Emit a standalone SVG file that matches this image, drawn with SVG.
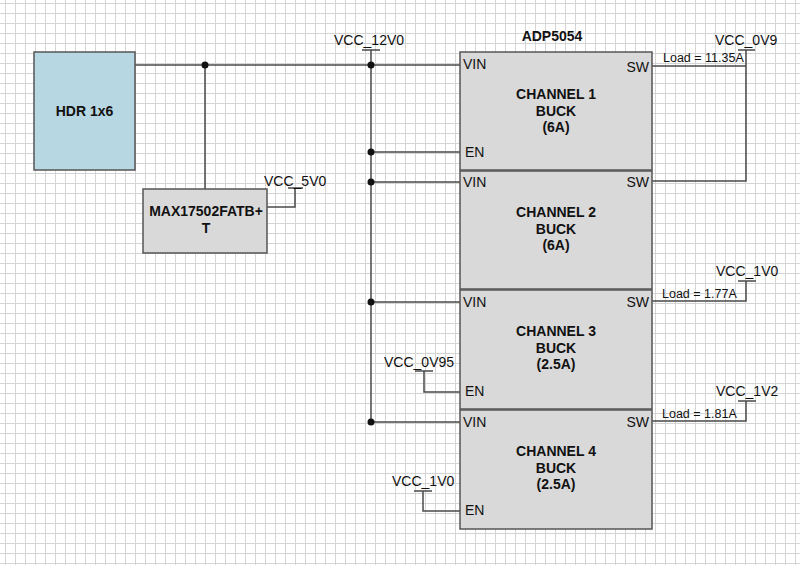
<svg xmlns="http://www.w3.org/2000/svg" width="800" height="565" viewBox="0 0 800 565">
<defs>
<pattern id="grid" width="10" height="10" patternUnits="userSpaceOnUse" x="5" y="3">
<path d="M0 0.5 H10 M0.5 0 V10" fill="none" stroke="#d4d4d4" stroke-width="1"/>
</pattern>
<style>
text{font-family:"Liberation Sans",Arial,sans-serif;fill:#111}
.b{font-weight:bold;font-size:14px;text-anchor:middle}
.p{font-size:14px}
.l{font-size:12.5px}
.box{fill:#d9d9d9;stroke:#555;stroke-width:1.5}
.w{fill:none;stroke:#4a4a4a;stroke-width:1.5}
.dot{fill:#111}
</style>
</defs>
<rect width="800" height="565" fill="#fff"/>
<rect width="800" height="565" fill="url(#grid)"/>

<g id="connectors">
<path class="w" d="M135,65 H460"/>
<path class="w" d="M205,65 V189"/>
<path class="w" d="M267,207 H295 V188 M288,188 H303"/>
<path class="w" d="M371,50 V422 M362,50 H380"/>
<path class="w" d="M371,152 H460 M371,182 H460 M371,302 H460 M371,422 H460"/>
<path class="w" d="M652,66 H746 M738,50 H755 M746,50 V181 H652"/>
<path class="w" d="M652,301 H746 V281 M738,281 H756"/>
<path class="w" d="M652,421 H746 V401 M738,401 H756"/>
<path class="w" d="M415,371 H433 M424,371 V392 H460"/>
<path class="w" d="M414,491 H432 M423,491 V511 H460"/>
<circle class="dot" cx="205" cy="65" r="3.5"/>
<circle class="dot" cx="371" cy="65" r="3.5"/>
<circle class="dot" cx="371" cy="152" r="3.5"/>
<circle class="dot" cx="371" cy="182" r="3.5"/>
<circle class="dot" cx="371" cy="302" r="3.5"/>
<circle class="dot" cx="371" cy="422" r="3.5"/>
<text class="p" x="334" y="45">VCC_12V0</text>
<text class="p" x="264" y="186">VCC_5V0</text>
<text class="p" x="715" y="45">VCC_0V9</text>
<text class="p" x="716" y="276">VCC_1V0</text>
<text class="p" x="716" y="396">VCC_1V2</text>
<text class="p" x="384" y="367">VCC_0V95</text>
<text class="p" x="392" y="486">VCC_1V0</text>
<text class="l" x="663" y="62">Load = 11.35A</text>
<text class="l" x="662" y="298">Load = 1.77A</text>
<text class="l" x="662" y="418">Load = 1.81A</text>
</g>

<g id="hdr">
<rect x="34" y="52" width="101" height="118" fill="#b7d8e2" stroke="#555" stroke-width="1.5"/>
<text class="b" x="84.5" y="116">HDR 1x6</text>
</g>

<g id="max17502">
<rect class="box" x="143" y="189" width="124" height="64"/>
<text class="b" x="206" y="216">MAX17502FATB+</text>
<text class="b" x="206" y="233">T</text>
</g>

<g id="adp5054">
<text class="b" x="552" y="41">ADP5054</text>
</g>

<g id="ch1">
<rect class="box" x="460" y="52" width="192" height="118"/>
<text class="p" x="463" y="69">VIN</text>
<text class="p" x="649" y="72" text-anchor="end">SW</text>
<text class="p" x="465" y="157">EN</text>
<text class="b" x="556" y="99">CHANNEL 1</text>
<text class="b" x="556" y="115.5">BUCK</text>
<text class="b" x="556" y="132">(6A)</text>
</g>

<g id="ch2">
<rect class="box" x="460" y="171" width="192" height="118"/>
<text class="p" x="463" y="187">VIN</text>
<text class="p" x="649" y="187" text-anchor="end">SW</text>
<text class="b" x="556" y="217">CHANNEL 2</text>
<text class="b" x="556" y="233.5">BUCK</text>
<text class="b" x="556" y="250">(6A)</text>
</g>

<g id="ch3">
<rect class="box" x="460" y="290" width="192" height="119"/>
<text class="p" x="463" y="307">VIN</text>
<text class="p" x="649" y="307" text-anchor="end">SW</text>
<text class="p" x="465" y="396">EN</text>
<text class="b" x="556" y="336">CHANNEL 3</text>
<text class="b" x="556" y="352.5">BUCK</text>
<text class="b" x="556" y="369">(2.5A)</text>
</g>

<g id="ch4">
<rect class="box" x="460" y="410" width="192" height="119"/>
<text class="p" x="463" y="427">VIN</text>
<text class="p" x="649" y="427" text-anchor="end">SW</text>
<text class="p" x="465" y="515">EN</text>
<text class="b" x="556" y="456">CHANNEL 4</text>
<text class="b" x="556" y="472.5">BUCK</text>
<text class="b" x="556" y="489">(2.5A)</text>
</g>
</svg>
